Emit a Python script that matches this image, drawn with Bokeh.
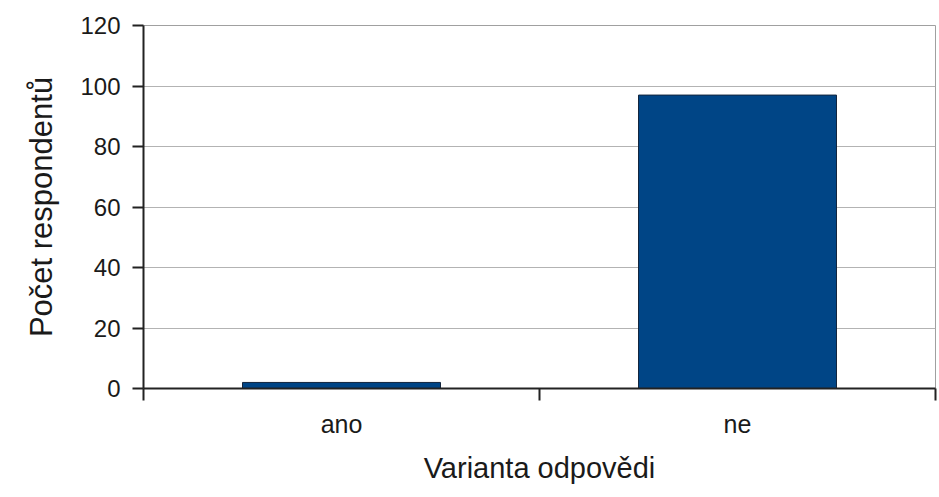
from bokeh.plotting import figure
from bokeh.models import FixedTicker, Range1d, ColumnDataSource
from bokeh.embed import file_html
from bokeh.resources import INLINE

categories = ["ano", "ne"]
values = [2, 97]
y_ticks = [0, 20, 40, 60, 80, 100, 120]
x_title = "Varianta odpovědi"
y_title = "Počet respondentů"

FONT = "Liberation Sans"
TXT = "#1a1a1a"

xs = [i + 0.5 for i in range(len(categories))]
src = ColumnDataSource(dict(x=xs, top=values, cat=categories))

p = figure(width=939, height=497, output_backend="svg", toolbar_location=None,
           x_range=Range1d(0, len(categories)), y_range=Range1d(0, 120),
           min_border_left=143, min_border_right=4, min_border_top=25, min_border_bottom=109)
p.background_fill_color = "white"
p.border_fill_color = "white"
p.outline_line_color = "#a0a0a0"
p.outline_line_width = 1

p.vbar(x="x", top="top", width=0.5, source=src, fill_color="#004586",
       line_color="#13253d", line_width=1)

# grid
p.xgrid.grid_line_color = None
p.ygrid.grid_line_color = "#b3b3b3"
p.ygrid.grid_line_width = 1

# y axis
p.yaxis.ticker = FixedTicker(ticks=y_ticks)
p.yaxis.axis_line_color = "#222222"
p.yaxis.axis_line_width = 2
p.yaxis.major_tick_line_color = "#222222"
p.yaxis.major_tick_line_width = 2
p.yaxis.major_tick_out = 11
p.yaxis.major_tick_in = 0
p.yaxis.minor_tick_line_color = None
p.yaxis.major_label_text_font = FONT
p.yaxis.major_label_text_font_size = "24px"
p.yaxis.major_label_text_color = TXT
p.yaxis.major_label_standoff = 12
p.yaxis.axis_label = y_title
p.yaxis.axis_label_text_font = FONT
p.yaxis.axis_label_text_font_size = "31px"
p.yaxis.axis_label_text_font_style = "normal"
p.yaxis.axis_label_text_color = TXT
p.yaxis.axis_label_standoff = 18

# x axis: labels at category centres, ticks at category boundaries
p.xaxis.ticker = FixedTicker(ticks=xs, minor_ticks=list(range(len(categories) + 1)))
p.xaxis.major_label_overrides = {x: c for x, c in zip(xs, categories)}
p.xaxis.axis_line_color = "#222222"
p.xaxis.axis_line_width = 2
p.xaxis.major_tick_line_color = None
p.xaxis.major_tick_out = 0
p.xaxis.major_tick_in = 0
p.xaxis.minor_tick_line_color = "#222222"
p.xaxis.minor_tick_line_width = 2
p.xaxis.minor_tick_out = 12
p.xaxis.minor_tick_in = 0
p.xaxis.major_label_text_font = FONT
p.xaxis.major_label_text_font_size = "25px"
p.xaxis.major_label_text_color = TXT
p.xaxis.major_label_standoff = 9
p.xaxis.axis_label = x_title
p.xaxis.axis_label_text_font = FONT
p.xaxis.axis_label_text_font_size = "29px"
p.xaxis.axis_label_text_font_style = "normal"
p.xaxis.axis_label_text_color = TXT
p.xaxis.axis_label_standoff = 11

open("out.html", "w").write(file_html(p, INLINE))
